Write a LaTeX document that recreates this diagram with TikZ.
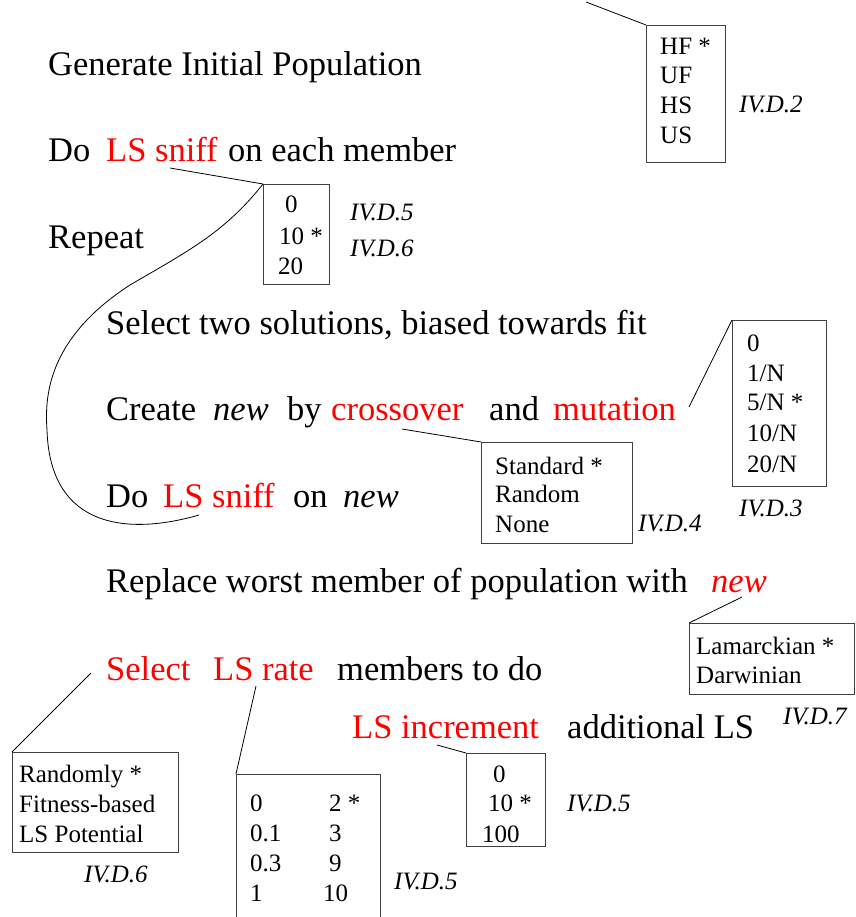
\documentclass[tikz,border=0pt]{standalone}
\usepackage{fontspec}
\setmainfont{Liberation Serif}
\begin{document}
\tikzset{
  main/.style={font=\fontsize{34.5}{40}\selectfont, inner sep=0pt, anchor=base west},
  mainit/.style={font=\fontsize{34.5}{40}\selectfont\itshape, inner sep=0pt, anchor=base west},
  small/.style={font=\fontsize{25}{30}\selectfont, inner sep=0pt, anchor=base west},
  refl/.style={font=\fontsize{25}{30}\selectfont\itshape, inner sep=0pt, anchor=base west},
  hl/.style={text=red},
  box/.style={draw=black!75, line width=1pt, inner sep=0pt, anchor=north west},
  lead/.style={draw=black, line width=0.8pt}
}
\begin{tikzpicture}[x=1pt,y=-1pt]
\useasboundingbox (0,0) rectangle (855,917);
% main text
\node[main] (l1) at (48,76) {Generate Initial Population};
\node[main] (l2a) at (48,162) {Do};
\node[main,hl] (sniff1) at (106,162) {LS sniff};
\node[main] (l2c) at (228,162) {on each member};
\node[main] (rep) at (48,248) {Repeat};
\node[main] (sel) at (106,334) {Select two solutions, biased towards fit};
\node[main] (cr) at (106,420) {Create};
\node[mainit] (new1) at (213,420) {new};
\node[main] (by) at (287,420) {by};
\node[main,hl] (cross) at (331,420) {crossover};
\node[main] (and) at (489,420) {and};
\node[main,hl] (mut) at (553,420) {mutation};
\node[main] (do2) at (106,507) {Do};
\node[main,hl] (sniff2) at (163,507) {LS sniff};
\node[main] (on2) at (293,507) {on};
\node[mainit] (new2) at (343,507) {new};
\node[main] (repl) at (106,592) {Replace worst member of population with};
\node[mainit,hl] (new3) at (711,592) {new};
\node[main,hl] (selx) at (106,680) {Select};
\node[main,hl] (rate) at (213,680) {LS rate};
\node[main] (memb) at (337,680) {members to do};
\node[main,hl] (incr) at (352,738) {LS increment};
\node[main] (addl) at (567,738) {additional LS};
% boxes
\node[box, minimum width=79pt, minimum height=137pt] (b1) at (646,25) {};
\node[box, minimum width=66pt, minimum height=100pt] (b2) at (263,184) {};
\node[box, minimum width=151pt, minimum height=101pt] (b3) at (481,442) {};
\node[box, minimum width=94pt, minimum height=166pt] (b4) at (732,320) {};
\node[box, minimum width=165pt, minimum height=71pt] (b5) at (689,623) {};
\node[box, minimum width=166pt, minimum height=100pt] (b6) at (12,752) {};
\node[box, minimum width=144pt, minimum height=170pt] (b7) at (236,774) {};
\node[box, minimum width=79pt, minimum height=93pt] (b8) at (466,753) {};
% box contents
\node[small] (hf) at (660,55) {HF *};
\node[small] (uf) at (660,84) {UF};
\node[small] (hs) at (660,114) {HS};
\node[small] (us) at (660,144) {US};
\node[refl] (r1) at (739,113) {IV.D.2};
\node[small] (s0) at (285,213) {0};
\node[small] (s10) at (279,244) {10 *};
\node[small] (s20) at (278,274) {20};
\node[refl] (r2) at (350,221) {IV.D.5};
\node[refl] (r3) at (350,256) {IV.D.6};
\node[small] (std) at (495,474) {Standard *};
\node[small] (rnd) at (495,502) {Random};
\node[small] (non) at (495,532) {None};
\node[refl] (r4) at (638,531) {IV.D.4};
\node[small] (m0) at (747,351) {0};
\node[small] (m1) at (747,381) {1/N};
\node[small] (m5) at (747,410) {5/N *};
\node[small] (m10) at (747,441) {10/N};
\node[small] (m20) at (747,472) {20/N};
\node[refl] (r5) at (739,516) {IV.D.3};
\node[small] (lam) at (696,654) {Lamarckian *};
\node[small] (dar) at (696,683) {Darwinian};
\node[refl] (r6) at (783,724) {IV.D.7};
\node[small] (ran) at (19,782) {Randomly *};
\node[small] (fit) at (19,812) {Fitness-based};
\node[small] (lsp) at (19,842) {LS Potential};
\node[refl] (r7) at (84,882) {IV.D.6};
\node[small] (a1) at (250,811) {0};
\node[small] (a2) at (250,841) {0.1};
\node[small] (a3) at (250,871) {0.3};
\node[small] (a4) at (250,901) {1};
\node[small] (c1) at (329,811) {2 *};
\node[small] (c2) at (329,841) {3};
\node[small] (c3) at (329,871) {9};
\node[small] (c4) at (323,901) {10};
\node[refl] (r8) at (394,889) {IV.D.5};
\node[small] (i0) at (493,782) {0};
\node[small] (i10) at (488,811) {10 *};
\node[small] (i100) at (482,842) {100};
\node[refl] (r9) at (567,811) {IV.D.5};
% leader ends
\coordinate (t1) at (586,2);
\coordinate (t2) at (170,168);
\coordinate (t2b) at (199,515);
\coordinate (t3) at (402,429);
\coordinate (t4) at (689,407);
\coordinate (t5) at (742,597);
\coordinate (t6) at (91,673);
\coordinate (t7) at (256,686);
\coordinate (t8) at (437,745);
\draw[lead] (t1) -- (b1.north west);
\draw[lead] (t2) -- (b2.north west);
\draw[lead] (b2.north west) .. controls (225,232) and (190,250) .. (130,285)
  .. controls (45,340) and (45,400) .. (47,430)
  .. controls (50,530) and (130,535) .. (t2b);
\draw[lead] (t3) -- (b3.north west);
\draw[lead] (t4) -- (b4.north west);
\draw[lead] (t5) -- (b5.north west);
\draw[lead] (t6) -- (b6.north west);
\draw[lead] (t7) -- (b7.north west);
\draw[lead] (t8) -- (b8.north west);
\end{tikzpicture}
\end{document}
